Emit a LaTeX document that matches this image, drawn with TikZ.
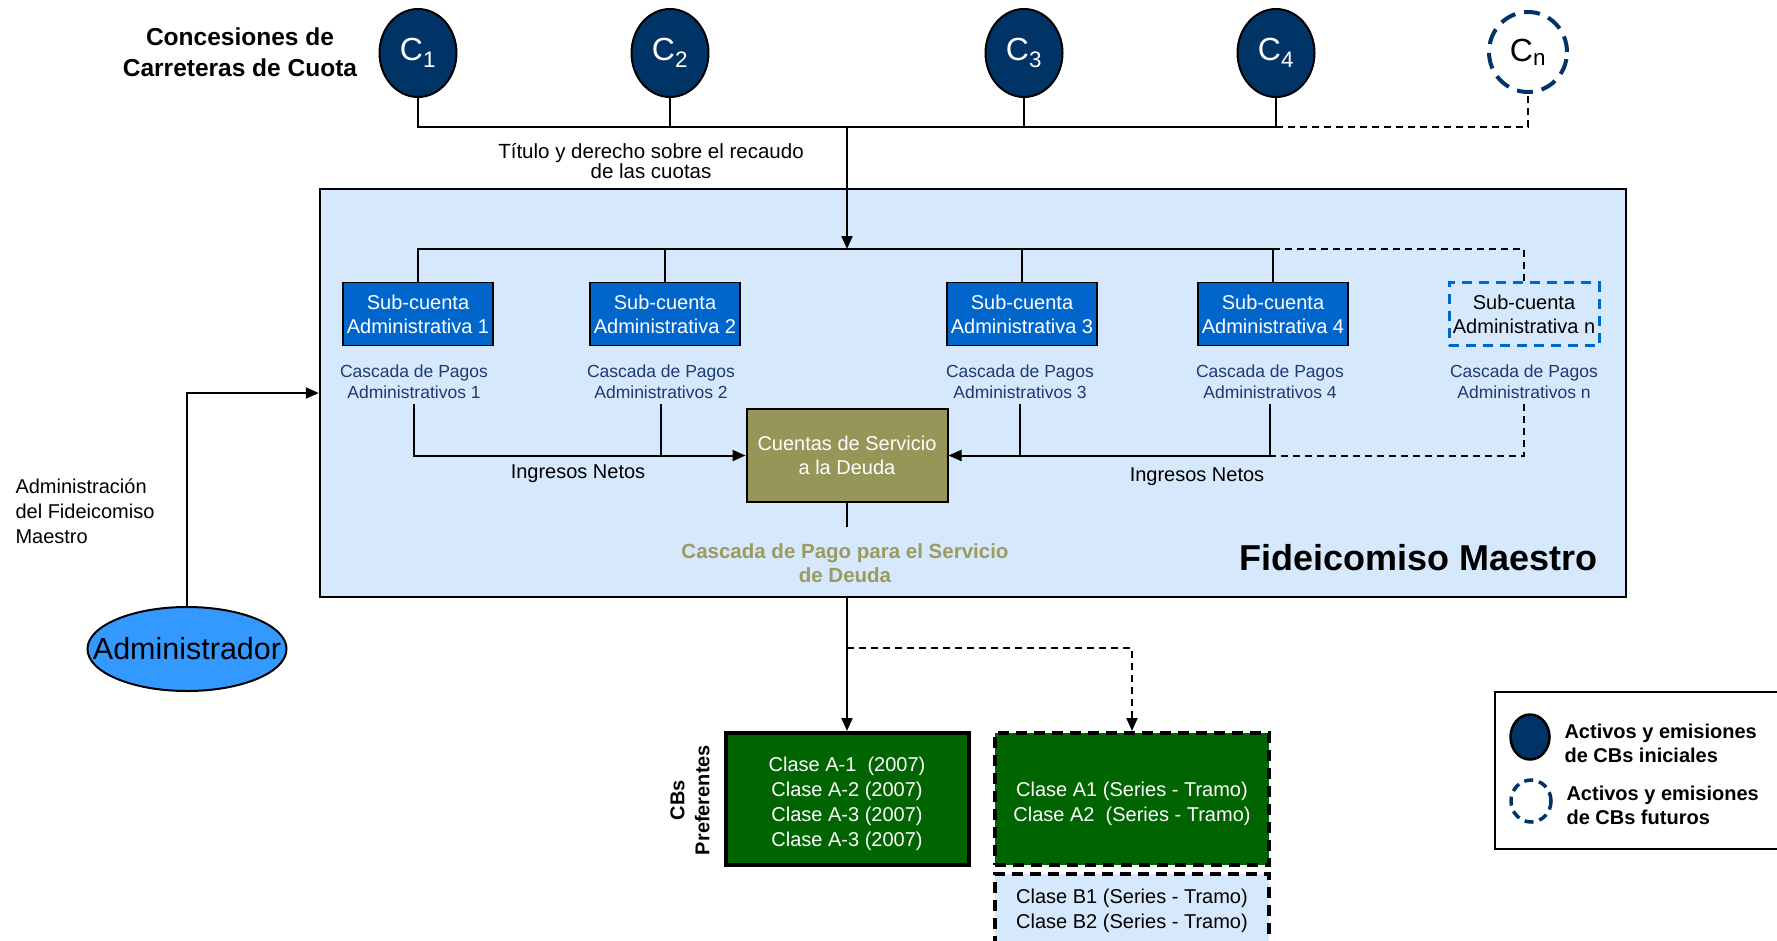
\documentclass[tikz,border=0pt]{standalone}
\usepackage{fontspec}
\setmainfont{Liberation Sans}
\usetikzlibrary{shapes.geometric,arrows.meta}
\definecolor{navy}{RGB}{0,51,102}
\definecolor{subblue}{RGB}{0,102,204}
\definecolor{fondo}{RGB}{214,232,252}
\definecolor{oliva}{RGB}{150,150,88}
\definecolor{olivatxt}{RGB}{155,155,95}
\definecolor{cascada}{RGB}{28,58,115}
\definecolor{verde}{RGB}{0,100,0}
\definecolor{adminblue}{RGB}{51,153,255}

\begin{document}
\begin{tikzpicture}[x=1pt,y=-1pt,
  every node/.style={font=\fontsize{20}{24}\selectfont,align=center},
  link/.style={line width=2pt},
  dline/.style={line width=2pt,dash pattern=on 7pt off 5pt},
  flow/.style={line width=2pt,-{Triangle[length=13pt,width=11pt]}},
  conc/.style={ellipse,draw=black,line width=2pt,fill=navy,text=white,
    minimum width=77,minimum height=88,inner sep=0pt,font=\fontsize{32}{32}\selectfont},
  futuro/.style={ellipse,draw=navy,line width=4pt,dash pattern=on 16pt off 9pt,
    minimum width=78,minimum height=80,inner sep=0pt,font=\fontsize{32}{32}\selectfont},
  subcta/.style={draw=black,line width=1.5pt,fill=subblue,text=white,
    minimum width=150,minimum height=63,inner sep=0pt},
  cascada/.style={text=cascada,font=\fontsize{17.5}{20.5}\selectfont,inner sep=5pt},
  clase/.style={draw=black,fill=verde,text=white,line width=4pt,
    minimum height=132,inner sep=0pt,font=\fontsize{20}{25}\selectfont}
]
\useasboundingbox (0,0) rectangle (1777,940);

% fideicomiso
\node[draw=black,line width=2.5pt,fill=fondo,minimum width=1306,minimum height=408,inner sep=0pt]
  (fidei) at (973,393) {};
\node[anchor=east,font=\bfseries\fontsize{36}{36}\selectfont] (titfidei) at (1601,558) {Fideicomiso Maestro};

% concesiones
\node[font=\bfseries\fontsize{24.5}{30.5}\selectfont] (titconc) at (240,52) {Concesiones de\\Carreteras de Cuota};
\node[conc] (c1) at (418,53) {C\textsubscript{1}};
\node[conc] (c2) at (670,53) {C\textsubscript{2}};
\node[conc] (c3) at (1024,53) {C\textsubscript{3}};
\node[conc] (c4) at (1276,53) {C\textsubscript{4}};
\node[futuro] (cn) at (1528,52) {C\textsubscript{n}};

\coordinate (bus) at (847,127);
\coordinate (reparto) at (847,249);
\draw[link] (c1.south) |- (c4.south |- bus) -- (c4.south);
\draw[link] (c2.south) -- (c2.south |- bus);
\draw[link] (c3.south) -- (c3.south |- bus);
\draw[dline] (c4.south |- bus) -| (cn.south);
\draw[flow] (bus) -- (reparto);
\node[font=\fontsize{20.5}{20.5}\selectfont] (titulo) at (651,161) {Título y derecho sobre el recaudo\\de las cuotas};

% sub-cuentas
\node[subcta] (s1) at (418,314) {Sub-cuenta\\Administrativa 1};
\node[subcta] (s2) at (665,314) {Sub-cuenta\\Administrativa 2};
\node[subcta] (s3) at (1022,314) {Sub-cuenta\\Administrativa 3};
\node[subcta] (s4) at (1273,314) {Sub-cuenta\\Administrativa 4};
\node[subcta,fill=none,text=black,draw=subblue,line width=3pt,dash pattern=on 10pt off 7pt]
  (sn) at (1524,314) {Sub-cuenta\\Administrativa n};

\draw[link] (s1.north) |- (s4.north |- reparto) -- (s4.north);
\draw[link] (s2.north) -- (s2.north |- reparto);
\draw[link] (s3.north) -- (s3.north |- reparto);
\draw[dline] (s4.north |- reparto) -| (sn.north);

\node[cascada,anchor=north] (k1) at (414,360) {Cascada de Pagos\\Administrativos 1};
\node[cascada,anchor=north] (k2) at (661,360) {Cascada de Pagos\\Administrativos 2};
\node[cascada,anchor=north] (k3) at (1020,360) {Cascada de Pagos\\Administrativos 3};
\node[cascada,anchor=north] (k4) at (1270,360) {Cascada de Pagos\\Administrativos 4};
\node[cascada,anchor=north] (kn) at (1524,360) {Cascada de Pagos\\Administrativos n};

% cuentas de servicio
\node[draw=black,line width=2pt,fill=oliva,text=white,minimum width=201,minimum height=93,inner sep=0pt]
  (cuentas) at (847,455.5) {Cuentas de Servicio\\a la Deuda};
\draw[flow] (k1.south) |- (cuentas.west);
\draw[link] (k2.south) -- (k2.south |- cuentas.west);
\draw[dline] (kn.south) |- (k4.south |- cuentas.east);
\draw[flow] (k4.south) |- (cuentas.east);
\draw[link] (k3.south) -- (k3.south |- cuentas.east);
\node (ing1) at (578,474) {Ingresos Netos};
\node (ing2) at (1197,477) {Ingresos Netos};

\coordinate (cuentasfin) at (847,527);
\draw[link] (cuentas.south) -- (cuentasfin);
\node[text=olivatxt,font=\bfseries\fontsize{20.5}{24}\selectfont] (casdeuda) at (845,563)
  {Cascada de Pago para el Servicio\\de Deuda};

% administrador
\node[ellipse,draw=black,line width=2pt,fill=adminblue,minimum width=199,minimum height=84,
  inner xsep=-24pt,inner ysep=0pt,font=\fontsize{30.5}{30.5}\selectfont] (admin) at (187,649) {Administrador};
\draw[flow] (admin.north) |- (fidei.west);
\node[anchor=west,align=left,font=\fontsize{20}{25}\selectfont] (admintxt) at (12,511)
  {Administración\\del Fideicomiso\\Maestro};

% certificados
\node[clase,minimum width=243] (ca) at (847,799)
  {\rule{0pt}{24pt}Clase A-1\ \ (2007)\\Clase A-2 (2007)\\Clase A-3 (2007)\\Clase A-3 (2007)};
\node[clase,minimum width=274,dash pattern=on 11pt off 7pt] (ca1) at (1132,799)
  {\rule{0pt}{24pt}Clase A1 (Series - Tramo)\\Clase A2\ \ (Series - Tramo)};
\node[clase,minimum width=274,minimum height=74,fill=fondo,text=black,dash pattern=on 11pt off 7pt]
  (cb) at (1132,911) {Clase B1 (Series - Tramo)\\Clase B2 (Series - Tramo)};
\node[rotate=90,font=\bfseries\fontsize{20}{25}\selectfont] (cbs) at (690,800) {CBs\\Preferentes};

\coordinate (ramal) at (847,648);
\draw[flow] (fidei.south -| ca.north) -- (ca.north);
\draw[dline,-{Triangle[length=13pt,width=11pt]}] (ramal) -| (ca1.north);

% leyenda
\node[draw=black,line width=2pt,anchor=north west,minimum width=320,minimum height=157,inner sep=0pt]
  (ley) at (1494,691) {};
\node[ellipse,draw=black,line width=2.5pt,fill=navy,minimum width=39,minimum height=45,inner sep=0pt] (leyc) at (1530,737) {};
\node[ellipse,draw=navy,line width=3.5pt,dash pattern=on 9pt off 6pt,minimum width=40,minimum height=42,inner sep=0pt] (leyf) at (1531,801) {};
\node[anchor=west,align=left,font=\bfseries\fontsize{20}{24}\selectfont] (leyt1) at (1561,743)
  {Activos y emisiones\\de CBs iniciales};
\node[anchor=west,align=left,font=\bfseries\fontsize{20}{24}\selectfont] (leyt2) at (1563,805)
  {Activos y emisiones\\de CBs futuros};
\end{tikzpicture}
\end{document}
